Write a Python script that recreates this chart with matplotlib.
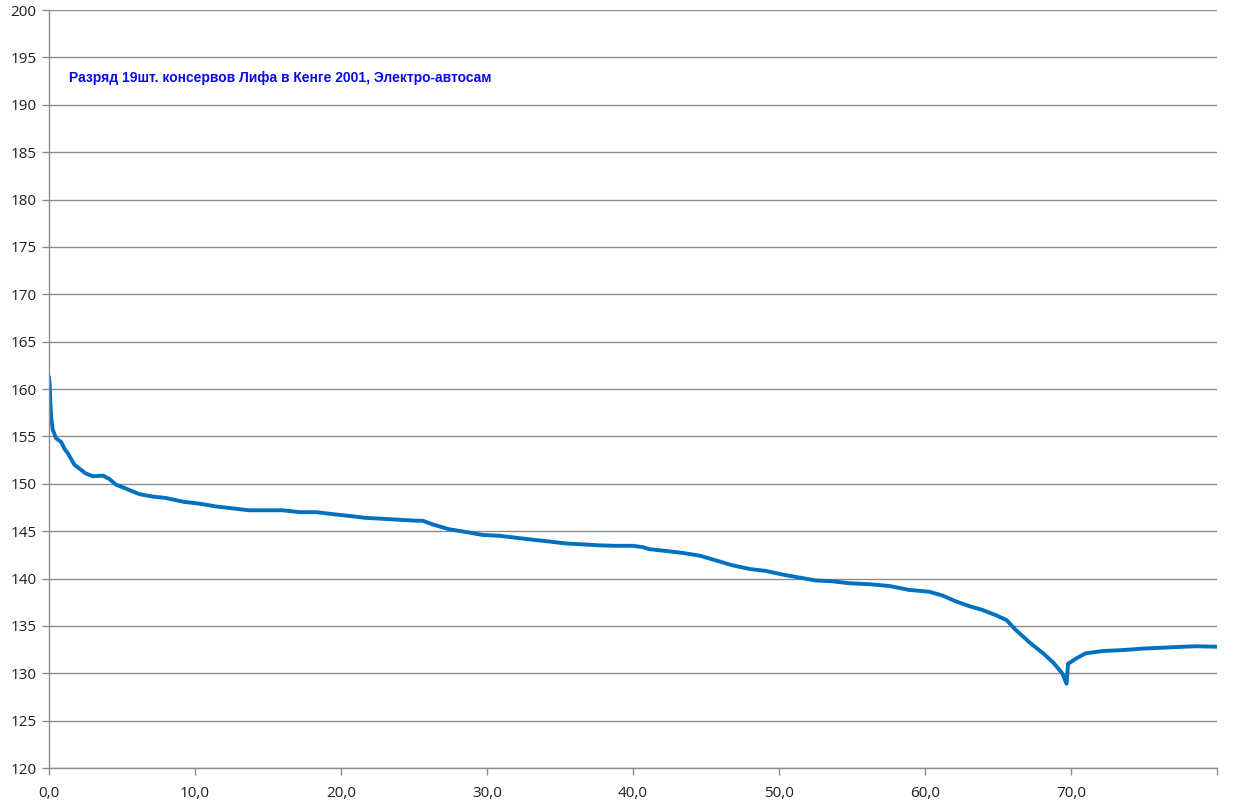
import matplotlib
matplotlib.use("Agg")
import matplotlib.pyplot as plt
from matplotlib.ticker import FuncFormatter

# Hand-read values (time, voltage)
time = [0.0, 0.05, 0.1, 0.15, 0.26, 0.49, 0.84, 1.06, 1.3, 1.52, 1.75, 2.09, 2.5, 3.0, 3.7,
        4.14, 4.6, 5.25, 6.2, 7.1, 8.0, 9.2, 10.3, 11.45, 12.6, 13.7, 14.9, 16.0, 17.2,
        18.3, 19.4, 20.6, 21.7, 22.9, 24.0, 25.15, 25.6, 26.3, 27.4, 28.6, 29.7, 30.9,
        32.0, 33.1, 34.3, 35.4, 36.6, 37.7, 38.85, 40.0, 40.7, 41.1, 42.3, 43.4, 44.6,
        45.7, 46.8, 48.0, 49.1, 50.3, 51.4, 52.5, 53.7, 54.8, 56.2, 57.6, 58.9, 60.3,
        61.2, 62.1, 63.0, 63.9, 64.9, 65.6, 66.2, 67.2, 68.1, 68.8, 69.4, 69.7, 69.8,
        70.4, 71.0, 72.2, 73.6, 74.9, 76.3, 77.7, 78.6, 80.0]
voltage = [161.2, 160.5, 158.5, 157.1, 155.7, 154.8, 154.4, 153.7, 153.2, 152.6, 152.0, 151.6,
           151.1, 150.8, 150.85, 150.5, 149.9, 149.5, 148.9, 148.65, 148.5, 148.1, 147.9,
           147.6, 147.4, 147.2, 147.2, 147.2, 147.0, 147.0, 146.8, 146.6, 146.4, 146.3,
           146.2, 146.1, 146.1, 145.7, 145.2, 144.9, 144.6, 144.5, 144.3, 144.1, 143.9,
           143.7, 143.6, 143.5, 143.45, 143.45, 143.3, 143.1, 142.9, 142.7, 142.4, 141.9,
           141.4, 141.0, 140.8, 140.4, 140.1, 139.8, 139.7, 139.5, 139.4, 139.2, 138.8,
           138.6, 138.2, 137.6, 137.1, 136.7, 136.1, 135.6, 134.6, 133.2, 132.1, 131.1,
           130.0, 128.9, 131.0, 131.6, 132.1, 132.35, 132.45, 132.6, 132.7, 132.8, 132.85,
           132.8]

x_ticks = [0, 10, 20, 30, 40, 50, 60, 70, 80]
x_tick_labels = ["0,0", "10,0", "20,0", "30,0", "40,0", "50,0", "60,0", "70,0", ""]
y_ticks = list(range(120, 201, 5))
title_text = "Разряд 19шт. консервов Лифа в Кенге 2001, Электро-автосам"

fig = plt.figure(figsize=(12.33, 8.08), dpi=100)
ax = fig.add_axes([0.0397, 0.0495, 0.9473, 0.9381])

ax.plot(time, voltage, color="#0070C0", linewidth=2.8, solid_joinstyle="round")

ax.set_xlim(0, 80)
ax.set_ylim(120, 200)
ax.set_xticks(x_ticks)
ax.set_xticklabels(x_tick_labels)
ax.set_yticks(y_ticks)
ax.yaxis.set_major_formatter(FuncFormatter(lambda v, p: f"{int(v)}"))

ax.grid(axis="y", color="#8c8c8c", linewidth=1.0)
ax.set_axisbelow(True)
for s in ["top", "right"]:
    ax.spines[s].set_visible(False)
for s in ["left", "bottom"]:
    ax.spines[s].set_color("#8c8c8c")
    ax.spines[s].set_linewidth(1.0)

ax.tick_params(axis="both", colors="#8c8c8c", length=5, width=1.0,
               labelcolor="#202020", labelsize=11)
ax.tick_params(axis="x", pad=8)
ax.tick_params(axis="y", pad=4)
for lab in ax.get_xticklabels() + ax.get_yticklabels():
    lab.set_family(["Open Sans", "DejaVu Sans"])

ax.text(1.34, 192.8, title_text, color="#0A0AF0", fontsize=10, fontweight="bold",
        family=["Liberation Sans", "DejaVu Sans"], va="center", ha="left")

fig.savefig("out.png", dpi=100)
